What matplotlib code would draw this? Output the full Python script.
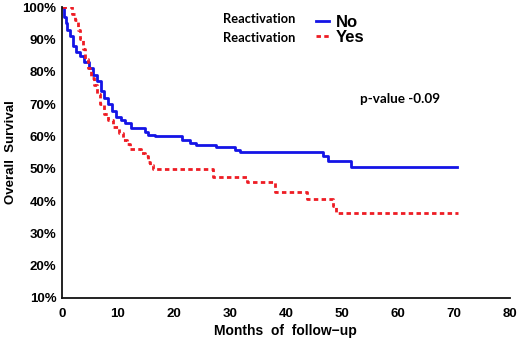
import matplotlib
matplotlib.use('Agg')
import matplotlib.pyplot as plt
from matplotlib.lines import Line2D

# Kaplan-Meier steps (months, survival %)
no_months = [0, 0.3, 0.7, 1.0, 1.5, 2.0, 2.5, 3.2, 4.0, 4.8, 5.5, 6.2, 7.0, 7.6,
             8.3, 9.0, 9.7, 10.5, 11.3, 12.3, 14.8, 15.4, 16.6, 21.4, 22.9, 24.0,
             27.6, 30.9, 31.8, 46.7, 47.6, 51.7, 70.5]
no_surv = [100, 97, 95, 93, 91, 88, 86, 85, 83, 81, 79, 77, 74, 72,
           70, 68, 66, 65, 64, 62.5, 61.5, 60.5, 60, 59, 58, 57.4,
           56.7, 55.8, 55.1, 54, 52.5, 50.6, 50.6]

yes_months = [0, 1.8, 2.3, 2.8, 3.2, 3.7, 4.2, 4.7, 5.2, 5.7, 6.2, 6.8, 7.5,
              8.3, 9.2, 10.2, 11.0, 11.6, 12.1, 14.2, 14.8, 15.3, 15.8, 16.3,
              27.0, 33.0, 38.0, 43.7, 48.4, 49.0, 70.8]
yes_surv = [100, 98, 96, 93, 90, 87, 84, 81, 78, 76, 73, 70, 67,
            65, 63, 61, 59, 57.5, 56.2, 55, 54, 52, 51, 50,
            47.4, 46, 42.9, 40.7, 38.5, 36.3, 36.3]

x_ticks = [0, 10, 20, 30, 40, 50, 60, 70, 80]
y_ticks = [10, 20, 30, 40, 50, 60, 70, 80, 90, 100]

fig = plt.figure(figsize=(5.2, 3.48), dpi=100)
ax = fig.add_axes([0.119, 0.1437, 0.8615, 0.836])

blue = '#1414e6'
red = '#ee1c24'
red_dash = (0, (1.6, 1.2))

ax.plot(no_months, no_surv, drawstyle='steps-post', color=blue, lw=2.0)
ax.plot(yes_months, yes_surv, drawstyle='steps-post', color=red, lw=2.0,
        linestyle=red_dash)

ax.set_xlim(0, 80)
ax.set_ylim(10, 100)
ax.set_xticks(x_ticks)
ax.set_yticks(y_ticks)
ax.set_yticklabels([f'{v}%' for v in y_ticks])
ax.tick_params(length=0, pad=4, labelsize=9.5)
for lab in ax.get_xticklabels() + ax.get_yticklabels():
    lab.set_fontfamily('Liberation Sans')
    lab.set_fontweight('bold')
ax.tick_params(axis='x', pad=7)

for s in ['top', 'right']:
    ax.spines[s].set_visible(False)
for s in ['left', 'bottom']:
    ax.spines[s].set_linewidth(1.3)
    ax.spines[s].set_color('#111111')

ax.set_ylabel('Overall  Survival', fontfamily='Liberation Sans', fontweight='bold',
              fontsize=9.5, labelpad=4)
ax.set_xlabel('Months  of  follow\u2212up', fontfamily='Liberation Sans',
              fontweight='bold', fontsize=10, labelpad=3)

# legend
fig.text(0.428, 0.945, 'Reactivation', fontfamily='Lato', fontweight='bold',
         fontsize=9.3, va='center')
fig.text(0.428, 0.892, 'Reactivation', fontfamily='Lato', fontweight='bold',
         fontsize=9.3, va='center')
handles = [Line2D([], [], color=blue, lw=2.0),
           Line2D([], [], color=red, lw=2.0, linestyle=red_dash)]
fig.legend(handles, ['No', 'Yes'], loc='upper left', bbox_to_anchor=(0.578, 1.0),
           frameon=False, handlelength=0.8, handletextpad=0.4, labelspacing=0.0,
           prop={'family': 'Liberation Sans', 'weight': 'bold', 'size': 12})

ax.text(60.4, 71.5, 'p-value -0.09', fontfamily='Lato', fontweight='bold',
        fontsize=9.7, ha='center', va='center')

fig.savefig('out.png', dpi=100)
